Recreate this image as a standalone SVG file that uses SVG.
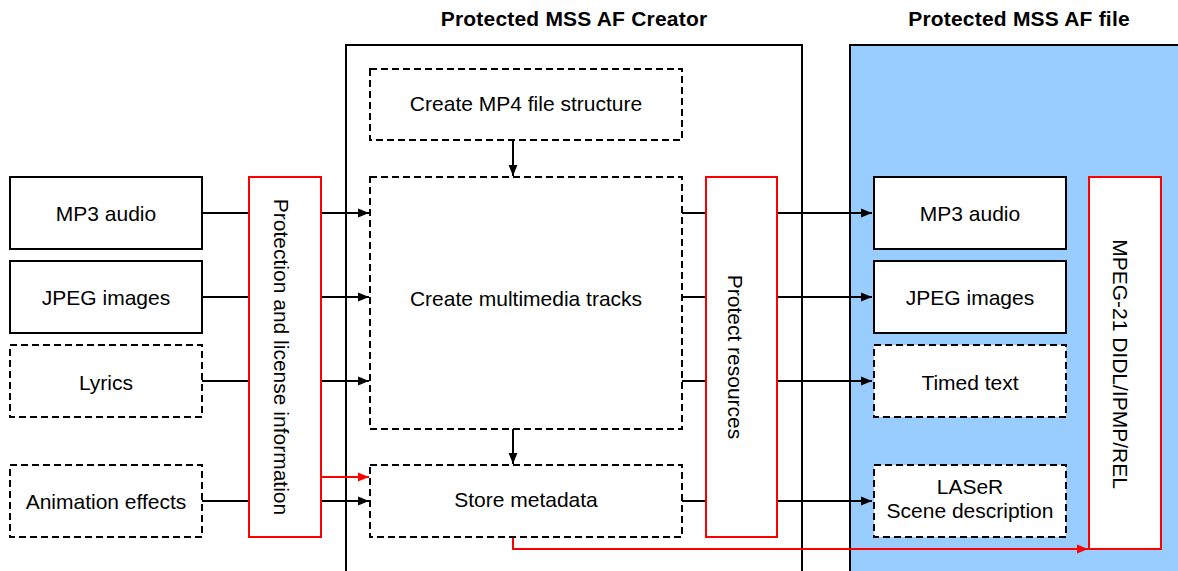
<svg xmlns="http://www.w3.org/2000/svg" width="1178" height="571" viewBox="0 0 1178 571">
<defs>
<style>
text{font-family:"Liberation Sans",Arial,sans-serif;font-size:21px;fill:#000;text-anchor:middle}
.title{font-weight:bold;font-size:21px;letter-spacing:0.2px}
.box{fill:#fff;stroke:#000;stroke-width:2}
.dash{fill:#fff;stroke:#000;stroke-width:2;stroke-dasharray:7,4}
.red{fill:#fff;stroke:#f00;stroke-width:2}
.ln{stroke:#000;stroke-width:2;fill:none}
.rl{stroke:#f00;stroke-width:2;fill:none}
</style>
<marker id="ah" viewBox="0 0 10 10" refX="10" refY="5" markerWidth="11" markerHeight="11" markerUnits="userSpaceOnUse" orient="auto"><path d="M0,1 L10,5 L0,9 Z" fill="#000"/></marker>
<marker id="ahr" viewBox="0 0 10 10" refX="10" refY="5" markerWidth="11" markerHeight="11" markerUnits="userSpaceOnUse" orient="auto"><path d="M0,1 L10,5 L0,9 Z" fill="#f00"/></marker>
</defs>
<rect width="1178" height="571" fill="#fff"/>
<g id="titles">
<text class="title" x="574" y="26">Protected MSS AF Creator</text>
<text class="title" x="1019" y="26">Protected MSS AF file</text>
</g>
<g id="creator"><rect x="346" y="45" width="456" height="540" fill="#fff" stroke="#000" stroke-width="2"/></g>
<g id="file"><rect x="850" y="45" width="340" height="540" fill="#99ccff" stroke="#000" stroke-width="2"/></g>
<g id="connectors">
<path class="ln" d="M202,213 H249 M202,297 H249 M202,381 H249 M202,501 H249"/>
<path class="ln" d="M321,213 H369" marker-end="url(#ah)"/>
<path class="ln" d="M321,297 H369" marker-end="url(#ah)"/>
<path class="ln" d="M321,381 H369" marker-end="url(#ah)"/>
<path class="ln" d="M321,501 H369" marker-end="url(#ah)"/>
<path class="rl" d="M321,477 H369" marker-end="url(#ahr)"/>
<path class="ln" d="M513,140 V176" marker-end="url(#ah)"/>
<path class="ln" d="M513,429 V464" marker-end="url(#ah)"/>
<path class="ln" d="M682,213 H706 M682,297 H706 M682,381 H706 M682,501 H706"/>
<path class="ln" d="M777,213 H872" marker-end="url(#ah)"/>
<path class="ln" d="M777,297 H872" marker-end="url(#ah)"/>
<path class="ln" d="M777,381 H872" marker-end="url(#ah)"/>
<path class="ln" d="M777,501 H872" marker-end="url(#ah)"/>
<path class="rl" d="M513,537 V549 H1088" marker-end="url(#ahr)"/>
</g>
<g id="n-mp3-in"><rect class="box" x="10" y="177" width="192" height="72"/><text x="106" y="221">MP3 audio</text></g>
<g id="n-jpeg-in"><rect class="box" x="10" y="261" width="192" height="72"/><text x="106" y="305">JPEG images</text></g>
<g id="n-lyrics"><rect class="dash" x="10" y="345" width="192" height="72"/><text x="106" y="390">Lyrics</text></g>
<g id="n-anim"><rect class="dash" x="10" y="465" width="192" height="72"/><text x="106" y="509">Animation effects</text></g>
<g id="n-protection"><rect class="red" x="249" y="177" width="72" height="360"/><text transform="translate(274,357) rotate(90)">Protection and license information</text></g>
<g id="n-mp4"><rect class="dash" x="370" y="69" width="312" height="71"/><text x="526" y="111">Create MP4 file structure</text></g>
<g id="n-tracks"><rect class="dash" x="370" y="177" width="312" height="252"/><text x="526" y="306">Create multimedia tracks</text></g>
<g id="n-meta"><rect class="dash" x="370" y="465" width="312" height="72"/><text x="526" y="507">Store metadata</text></g>
<g id="n-protect"><rect class="red" x="706" y="177" width="71" height="360"/><text transform="translate(728,357) rotate(90)">Protect resources</text></g>
<g id="n-mp3-out"><rect class="box" x="874" y="177" width="192" height="72"/><text x="970" y="221">MP3 audio</text></g>
<g id="n-jpeg-out"><rect class="box" x="874" y="261" width="192" height="72"/><text x="970" y="305">JPEG images</text></g>
<g id="n-timed"><rect class="dash" x="874" y="345" width="192" height="72"/><text x="970" y="390">Timed text</text></g>
<g id="n-laser"><rect class="dash" x="874" y="465" width="192" height="72"/><text x="970" y="494">LASeR</text><text x="970" y="518">Scene description</text></g>
<g id="n-mpeg21"><rect class="red" x="1089" y="177" width="72" height="372"/><text transform="translate(1113,364) rotate(90)">MPEG-21 DIDL/IPMP/REL</text></g>
</svg>
